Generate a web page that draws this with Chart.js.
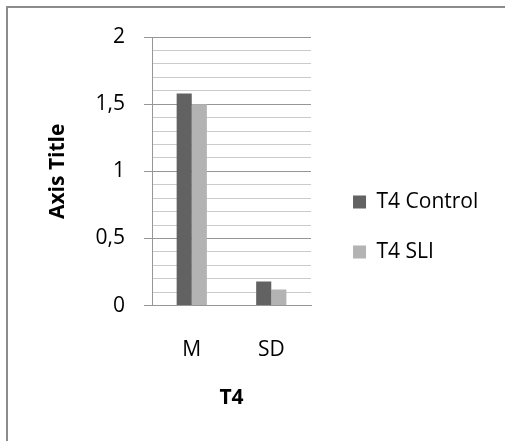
<!DOCTYPE html>
<html>
<head>
<meta charset="utf-8">
<script src="https://cdn.jsdelivr.net/npm/chart.js@4.4.1/dist/chart.umd.min.js"></script>
<style>
  html, body { margin: 0; padding: 0; background: #fff; }
  body { width: 505px; height: 441px; position: relative; overflow: hidden; }
  #frame {
    position: absolute; left: 6px; top: 6px; width: 520px; height: 460px;
    border-left: 2px solid #8c8c8c; border-top: 2px solid #8c8c8c;
  }
  #wrap { position: absolute; left: 0; top: 0; width: 505px; height: 441px; }
</style>
</head>
<body>
<div id="frame"></div>
<div id="wrap"><canvas id="chart" width="505" height="441"></canvas></div>
<script>
// Categories and series
const categories = ['M', 'SD'];
const controlValues = [1.58, 0.18];
const sliValues = [1.50, 0.12];
const seriesNames = ['T4 Control', 'T4 SLI'];
const yTickLabels = { 0: '0', 5: '0,5', 10: '1', 15: '1,5', 20: '2' };

const FONT = "'Open Sans', sans-serif";

const ctx = document.getElementById('chart').getContext('2d');
const chart = new Chart(ctx, {
    type: 'bar',
    data: {
        labels: categories,
        datasets: [
            { label: seriesNames[0], data: controlValues, backgroundColor: '#626262', yAxisID: 'y' },
            { label: seriesNames[1], data: sliValues, backgroundColor: '#b3b3b3', yAxisID: 'y' }
        ]
    },
    options: {
        responsive: false,
        animation: false,
        categoryPercentage: 0.38,
        barPercentage: 1.0,
        layout: { padding: { left: 8, top: 37, right: 16.7, bottom: 24 } },
        plugins: {
            tooltip: { enabled: false },
            legend: {
                position: 'right',
                maxWidth: 220,
                labels: {
                    boxWidth: 13,
                    boxHeight: 13,
                    padding: 29,
                    color: '#000',
                    font: { family: FONT, size: 21 }
                }
            }
        },
        scales: {
            x: {
                grid: { display: false, drawTicks: false },
                border: { color: '#969696' },
                ticks: { color: '#000', padding: 32, font: { family: FONT, size: 21 } },
                title: {
                    display: true, text: 'T4', color: '#000',
                    font: { family: FONT, size: 21, weight: 'bold' },
                    padding: { top: -9, bottom: 6 }
                }
            },
            y: {
                min: 0,
                max: 2,
                border: { color: '#969696' },
                grid: {
                    tickLength: 8,
                    // every half unit gets a darker line and a tick mark
                    color: c => (c.index % 5 === 0 ? '#969696' : '#cbcbcb'),
                    tickColor: c => (c.index % 5 === 0 ? '#969696' : 'rgba(0,0,0,0)')
                },
                ticks: {
                    stepSize: 0.1,
                    autoSkip: false,
                    padding: 19,
                    color: '#000',
                    font: { family: FONT, size: 21 },
                    callback: (v, i) => yTickLabels[i] ?? ''
                },
                title: {
                    display: true, text: 'Axis Title', color: '#000',
                    font: { family: FONT, size: 21, weight: 'bold' },
                    padding: { top: 37, bottom: 24 }
                },
                afterFit: s => { s.width = 144; }
            },
            // spacer between plot and legend
            gap: {
                type: 'linear',
                position: 'right',
                display: true,
                grid: { display: false },
                border: { display: false },
                ticks: { display: false },
                afterFit: s => { s.width = 13; }
            }
        }
    }
});
</script>
</body>
</html>
